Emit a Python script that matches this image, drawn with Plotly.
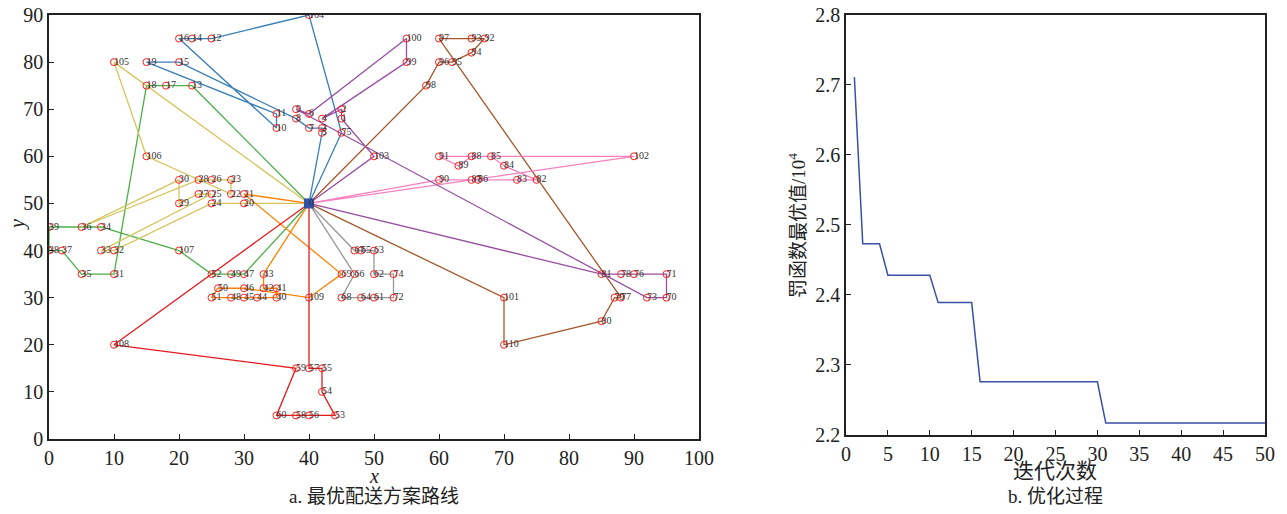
import plotly.graph_objects as go

# ---------------- data: node coordinates (index = node id, 0 = depot) ----------------
NODE_X = [40, 45, 45, 42, 42, 42, 40, 40, 38, 38, 35, 35, 25, 22, 22, 20, 20, 18, 15, 15,
          30, 30, 28, 28, 25, 25, 25, 23, 23, 20, 20, 10, 10, 8, 8, 5, 5, 2, 0, 0,
          35, 35, 33, 33, 32, 30, 30, 30, 28, 28, 26, 25, 25, 44, 42, 42, 40, 40, 38, 38,
          35, 50, 50, 50, 48, 48, 47, 47, 45, 45, 95, 95, 53, 92, 53, 45, 90, 88, 88, 87,
          85, 85, 75, 72, 70, 68, 66, 65, 65, 63, 60, 60, 67, 65, 65, 62, 60, 60, 58, 55,
          55, 70, 90, 50, 40, 10, 15, 20, 10, 40, 70]
NODE_Y = [50, 68, 70, 66, 68, 65, 69, 66, 68, 70, 66, 69, 85, 75, 85, 80, 85, 75, 75, 80,
          50, 52, 52, 55, 50, 52, 55, 52, 55, 50, 55, 35, 40, 40, 45, 35, 45, 40, 40, 45,
          30, 32, 32, 35, 30, 30, 32, 35, 30, 35, 32, 30, 35, 5, 10, 15, 5, 15, 5, 15,
          5, 30, 35, 40, 30, 40, 35, 40, 30, 35, 30, 35, 30, 30, 35, 65, 35, 30, 35, 30,
          25, 35, 55, 55, 58, 60, 55, 55, 60, 58, 55, 60, 85, 85, 82, 80, 80, 85, 75, 80,
          85, 30, 60, 60, 90, 80, 60, 40, 20, 30, 20]
NODE_LABELS = [str(i) for i in range(len(NODE_X))]

# vehicle routes (node sequences) and their colours
ROUTE_BLUE = [0, 75, 104, 12, 14, 16, 10, 11, 19, 15, 8, 7, 3, 5, 0]
ROUTE_GREEN = [0, 13, 17, 18, 31, 35, 37, 38, 39, 36, 34, 107, 52, 49, 47, 0]
ROUTE_YELLOW = [0, 105, 106, 22, 23, 26, 28, 36, 30, 29, 27, 25, 33, 32, 24, 20, 0]
ROUTE_ORANGE = [0, 43, 42, 41, 40, 44, 45, 48, 51, 50, 46, 109, 69, 21, 0]
ROUTE_RED = [0, 108, 59, 60, 58, 56, 53, 54, 55, 57, 0]
ROUTE_GRAY = [0, 66, 68, 64, 61, 72, 74, 62, 63, 65, 67, 0]
ROUTE_BROWN = [0, 98, 96, 95, 94, 92, 93, 97, 77, 79, 80, 110, 101, 0]
ROUTE_PINK = [0, 90, 87, 86, 83, 82, 84, 85, 88, 89, 91, 102, 0]
ROUTE_PURPLE = [0, 103, 1, 2, 4, 99, 100, 6, 9, 73, 70, 71, 76, 78, 81, 0]

ROUTES = [ROUTE_BLUE, ROUTE_GREEN, ROUTE_YELLOW, ROUTE_ORANGE, ROUTE_RED,
          ROUTE_GRAY, ROUTE_BROWN, ROUTE_PINK, ROUTE_PURPLE]
ROUTE_COLORS = ["#377eb8", "#4daf4a", "#d6c45a", "#ff7f00", "#e41a1c",
                "#999999", "#a65628", "#f781bf", "#984ea3"]

# optimisation process
ITERATIONS = list(range(1, 51))
BEST_VALUE = ([2.711] + [2.473] * 3 + [2.428] * 6 + [2.389] * 5 +
              [2.276] * 15 + [2.217] * 20)

SERIF = "Liberation Serif, Noto Sans CJK SC, serif"
W, H = 1287, 514
OFF = 8  # page body margin offset

def px_x(x):
    return (x - OFF) / W

def px_y(y):
    return 1 - (y - OFF) / H

fig = go.Figure()

# routes
for route, col in zip(ROUTES, ROUTE_COLORS):
    fig.add_trace(go.Scatter(
        x=[NODE_X[i] for i in route], y=[NODE_Y[i] for i in route],
        mode="lines", line=dict(color=col, width=1.3),
        xaxis="x", yaxis="y", showlegend=False, hoverinfo="skip"))

# customers
fig.add_trace(go.Scatter(
    x=NODE_X[1:], y=NODE_Y[1:], mode="markers",
    marker=dict(symbol="circle-open", size=7, color="#ff2020", line=dict(width=1)),
    xaxis="x", yaxis="y", showlegend=False))
# depot
fig.add_trace(go.Scatter(
    x=NODE_X[:1], y=NODE_Y[:1], mode="markers",
    marker=dict(symbol="square", size=10, color="#3352a6"),
    xaxis="x", yaxis="y", showlegend=False))
# labels
fig.add_trace(go.Scatter(
    x=NODE_X, y=NODE_Y, mode="text", text=NODE_LABELS,
    textposition="middle right", marker=dict(size=1),
    textfont=dict(family=SERIF, size=10, color="#333333"),
    xaxis="x", yaxis="y", showlegend=False, hoverinfo="skip"))

# convergence curve
fig.add_trace(go.Scatter(
    x=ITERATIONS, y=BEST_VALUE, mode="lines",
    line=dict(color="#3a4fa6", width=1.5),
    xaxis="x2", yaxis="y2", showlegend=False))

axis_common = dict(showline=True, linecolor="#222222", linewidth=1.5, mirror=True,
                   ticks="inside", ticklen=5, tickcolor="#222222", showgrid=False,
                   zeroline=False, automargin=False, ticklabeloverflow="allow",
                   tickfont=dict(family=SERIF, size=20, color="#222222"))

fig.update_layout(
    width=W, height=H, margin=dict(l=0, r=0, t=0, b=0, autoexpand=False),
    paper_bgcolor="white", plot_bgcolor="white",
    xaxis=dict(domain=[px_x(49), px_x(699)], range=[0, 100], dtick=10, anchor="y",
               **axis_common),
    yaxis=dict(domain=[px_y(439), px_y(15)], range=[0, 90], dtick=10, anchor="x",
               **axis_common),
    xaxis2=dict(domain=[px_x(846), px_x(1265)], range=[0, 50], dtick=5, anchor="y2",
                **axis_common),
    yaxis2=dict(domain=[px_y(435), px_y(14.7)], range=[2.2, 2.8], dtick=0.1,
                tickformat=".1f", anchor="x2", **axis_common),
)

def ann(text, x, y, size, angle=0):
    fig.add_annotation(text=text, x=px_x(x), y=px_y(y), xref="paper", yref="paper",
                       showarrow=False, textangle=angle, xanchor="center", yanchor="middle",
                       font=dict(family=SERIF, size=size, color="#222222"))

ann("<i>x</i>", 374, 476, 20)
ann("<i>y</i>", 17, 225, 20, -90)
ann("a. 最优配送方案路线", 374, 496, 19)
ann("迭代次数", 1055, 471, 21)
ann("b. 优化过程", 1055, 496, 19)
ann("罚函数最优值/10<sup>4</sup>", 797, 226, 19, -90)

fig.write_html("out.html")
